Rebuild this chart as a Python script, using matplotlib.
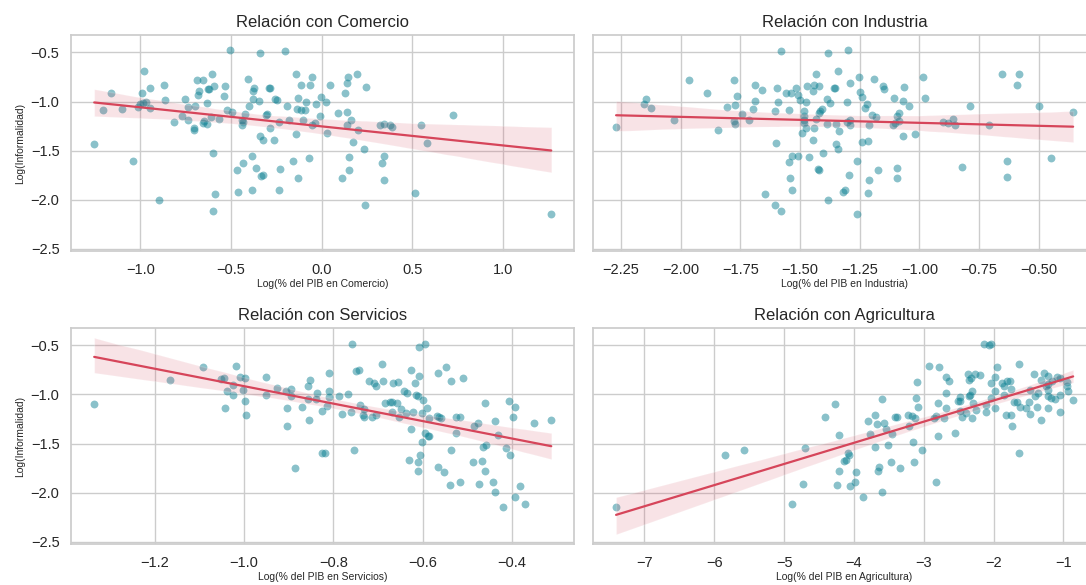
import matplotlib
matplotlib.use("Agg")
import matplotlib.pyplot as plt
import seaborn as sns

# Log(% del PIB en Comercio) vs Log(Informalidad)
comercio_x = [-1.254, -1.204, -1.16, -1.103, -1.042, -1.015, -1.002, -0.987, -0.969, -0.98,
              -0.99, -0.949, -0.949, -0.899, -0.871, -0.862, -0.816, -0.767, -0.752, -0.737,
              -0.735, -0.704, -0.702, -0.697, -0.686, -0.676, -0.684, -0.654, -0.656, -0.649,
              -0.634, -0.634, -0.627, -0.621, -0.603, -0.592, -0.608, -0.599, -0.588, -0.596,
              -0.564, -0.54, -0.535, -0.52, -0.504, -0.493, -0.467, -0.463, -0.434, -0.436,
              -0.438, -0.439, -0.423, -0.406, -0.401, -0.384, -0.384, -0.38, -0.375, -0.377,
              -0.36, -0.342, -0.344, -0.335, -0.322, -0.338, -0.324, -0.307, -0.303, -0.29,
              -0.285, -0.287, -0.263, -0.257, -0.248, -0.233, -0.232, -0.23, -0.2, -0.189,
              -0.182, -0.158, -0.143, -0.14, -0.132, -0.129, -0.136, -0.116, -0.092, -0.114,
              -0.101, -0.085, -0.072, -0.063, -0.055, -0.051, -0.037, -0.028, -0.007, -0.004,
              0.022, 0.031, 0.044, 0.127, 0.143, 0.147, 0.197, 0.246, 0.092, 0.14,
              0.162, 0.138, 0.2, 0.176, 0.235, 0.151, 0.151, 0.112, 0.239, 0.32,
              0.344, 0.377, 0.39, 0.347, 0.336, 0.344, 0.517, 0.548, 0.583, 0.726,
              1.267]
comercio_y = [-1.43, -1.09, -0.91, -1.076, -1.605, -1.06, -1.03, -1.02, -1.0, -0.685,
              -0.91, -0.864, -1.063, -2.003, -0.834, -0.985, -1.208, -1.147, -0.979, -1.056,
              -1.188, -1.289, -1.27, -1.046, -0.786, -0.888, -0.935, -0.78, -1.218, -1.198,
              -1.231, -1.012, -0.877, -0.87, -0.722, -0.847, -1.157, -1.521, -1.939, -2.118,
              -1.177, -0.948, -0.837, -1.083, -0.48, -1.103, -1.70, -1.922, -1.622, -1.208,
              -1.238, -1.19, -1.124, -0.77, -1.046, -1.552, -1.905, -0.888, -0.864, -0.972,
              -1.68, -0.51, -0.992, -1.754, -1.747, -1.356, -1.397, -1.134, -1.13, -0.86,
              -0.862, -1.27, -1.393, -0.972, -0.989, -1.208, -1.899, -1.69, -0.487, -1.046,
              -1.188, -1.605, -0.716, -1.329, -1.774, -0.968, -1.073, -1.09, -1.09, -0.827,
              -1.184, -1.002, -1.572, -0.827, -0.749, -1.235, -1.215, -1.026, -1.144, -0.952,
              -1.009, -1.319, -0.83, -0.911, -0.813, -0.746, -0.719, -0.854, -1.117, -1.107,
              -1.191, -1.238, -1.295, -1.41, -1.488, -1.565, -1.70, -1.784, -2.054, -1.238,
              -1.231, -1.241, -1.261, -1.558, -1.629, -1.798, -1.936, -1.238, -1.423, -1.14,
              -2.145]

# Log(% del PIB en Industria) vs Log(Informalidad)
industria_x = [-2.271, -2.154, -2.144, -2.124, -2.029, -1.964, -1.892, -1.842, -1.807, -1.778,
               -1.765, -1.772, -1.779, -1.772, -1.742, -1.715, -1.696, -1.69, -1.687, -1.661,
               -1.648, -1.606, -1.6, -1.605, -1.595, -1.592, -1.581, -1.581, -1.559, -1.54,
               -1.545, -1.547, -1.543, -1.535, -1.51, -1.534, -1.518, -1.508, -1.5, -1.493,
               -1.482, -1.482, -1.482, -1.483, -1.475, -1.475, -1.469, -1.461, -1.446, -1.447,
               -1.44, -1.422, -1.441, -1.434, -1.435, -1.426, -1.42, -1.42, -1.415, -1.41,
               -1.404, -1.387, -1.388, -1.384, -1.384, -1.374, -1.356, -1.353, -1.342, -1.35,
               -1.343, -1.349, -1.335, -1.299, -1.302, -1.305, -1.293, -1.292, -1.293, -1.296,
               -1.321, -1.311, -1.263, -1.26, -1.254, -1.25, -1.24, -1.239, -1.214, -1.226,
               -1.219, -1.214, -1.211, -1.211, -1.197, -1.18, -1.19, -1.173, -1.154, -1.147,
               -1.105, -1.109, -1.103, -1.096, -1.094, -1.094, -1.087, -1.084, -1.07, -1.067,
               -1.063, -1.043, -1.02, -0.987, -0.976, -0.902, -0.881, -0.86, -0.852, -0.821,
               -0.788, -0.708, -0.654, -0.582, -0.593, -0.635, -0.635, -0.497, -0.448, -0.356]
industria_y = [-1.262, -1.026, -0.979, -1.063, -1.191, -0.786, -0.911, -1.295, -1.056, -0.776,
               -0.945, -1.039, -1.198, -1.224, -1.127, -1.188, -1.076, -0.827, -0.992, -0.884,
               -1.939, -1.093, -1.423, -2.054, -0.86, -1.006, -0.487, -2.118, -0.915, -0.915,
               -1.09, -1.619, -1.777, -1.555, -1.558, -1.899, -0.86, -0.931, -0.982, -1.322,
               -1.093, -1.151, -1.188, -1.215, -1.009, -1.272, -0.837, -1.565, -1.396, -0.888,
               -0.83, -0.837, -1.268, -0.722, -1.181, -1.69, -1.70, -1.12, -1.1, -1.08,
               -1.521, -0.979, -1.231, -2.003, -0.51, -1.012, -0.86, -0.864, -0.689, -1.43,
               -1.484, -1.231, -1.299, -0.48, -1.006, -1.209, -1.188, -1.235, -0.813, -1.748,
               -1.919, -1.905, -2.145, -1.605, -0.749, -0.905, -0.956, -1.41, -1.403, -1.063,
               -1.029, -1.936, -1.799, -1.238, -1.137, -1.154, -0.773, -1.70, -0.847, -0.87,
               -0.968, -1.235, -1.218, -1.68, -1.784, -1.151, -1.117, -1.194, -1.356, -0.992,
               -0.854, -1.046, -1.329, -0.749, -0.968, -1.208, -1.215, -1.174, -1.238, -1.663,
               -1.046, -1.238, -0.716, -0.722, -0.827, -1.605, -1.764, -1.046, -1.572, -1.103]

# Log(% del PIB en Servicios) vs Log(Informalidad)
servicios_x = [-1.336, -1.166, -1.093, -1.051, -1.045, -1.038, -1.043, -1.025, -1.025, -1.018,
               -1.01, -0.999, -1.002, -0.999, -0.996, -0.951, -0.95, -0.927, -0.907, -0.903,
               -0.904, -0.896, -0.896, -0.886, -0.87, -0.857, -0.852, -0.858, -0.84, -0.837,
               -0.855, -0.825, -0.825, -0.818, -0.815, -0.811, -0.809, -0.81, -0.788, -0.768,
               -0.78, -0.76, -0.759, -0.754, -0.75, -0.743, -0.74, -0.733, -0.731, -0.731,
               -0.721, -0.713, -0.709, -0.705, -0.704, -0.692, -0.69, -0.685, -0.673, -0.669,
               -0.658, -0.667, -0.656, -0.668, -0.654, -0.648, -0.643, -0.636, -0.637, -0.622,
               -0.627, -0.627, -0.631, -0.617, -0.614, -0.61, -0.609, -0.596, -0.609, -0.599,
               -0.601, -0.591, -0.587, -0.594, -0.589, -0.585, -0.602, -0.605, -0.611, -0.61,
               -0.569, -0.564, -0.559, -0.565, -0.547, -0.537, -0.566, -0.552, -0.539, -0.536,
               -0.525, -0.525, -0.517, -0.516, -0.51, -0.486, -0.477, -0.487, -0.468, -0.461,
               -0.461, -0.474, -0.464, -0.458, -0.439, -0.432, -0.443, -0.438, -0.42, -0.413,
               -0.406, -0.405, -0.397, -0.393, -0.393, -0.381, -0.371, -0.351, -0.312]
servicios_y = [-1.097, -0.856, -0.721, -0.846, -0.836, -0.97, -1.138, -0.906, -1.007, -0.715,
               -0.822, -0.829, -0.956, -1.064, -1.205, -1.007, -0.822, -0.93, -0.963, -1.134,
               -1.322, -0.943, -1.013, -1.752, -1.128, -0.91, -0.852, -1.044, -1.044, -0.983,
               -1.265, -1.168, -1.597, -1.597, -1.117, -0.785, -0.963, -1.03, -1.02, -0.993,
               -1.195, -1.181, -0.483, -1.57, -0.765, -0.752, -1.104, -1.205, -1.232, -1.144,
               -0.859, -1.232, -0.883, -0.916, -1.211, -0.688, -0.862, -1.084, -1.081, -1.077,
               -1.091, -0.879, -0.872, -1.181, -1.232, -1.151, -0.97, -0.99, -1.191, -1.181,
               -0.755, -1.349, -1.668, -0.883, -1.01, -1.02, -0.513, -0.483, -0.812, -1.06,
               -1.191, -1.138, -1.238, -1.396, -1.419, -1.423, -1.487, -1.617, -1.688, -1.782,
               -1.215, -1.232, -1.242, -0.785, -0.721, -0.859, -1.735, -1.789, -1.923, -1.564,
               -1.396, -1.232, -1.232, -1.896, -0.832, -1.319, -1.295, -1.685, -1.678, -1.091,
               -1.775, -1.909, -1.54, -1.513, -1.275, -1.416, -1.896, -1.997, -2.144, -1.544,
               -1.07, -1.621, -1.225, -1.131, -2.044, -1.93, -2.114, -1.295, -1.258]

# Log(% del PIB en Agricultura) vs Log(Informalidad)
agricultura_x = [-7.406, -5.85, -5.573, -4.885, -4.723, -4.695, -4.418, -4.27, -4.236, -4.208,
                 -4.208, -4.136, -4.112, -4.08, -4.075, -4.06, -3.983, -3.969, -3.864, -3.802,
                 -3.764, -3.697, -3.692, -3.668, -3.659, -3.644, -3.592, -3.592, -3.573, -3.539,
                 -3.511, -3.463, -3.449, -3.415, -3.391, -3.334, -3.22, -3.205, -3.162, -3.129,
                 -3.148, -3.134, -3.105, -3.1, -3.086, -3.033, -2.919, -2.847, -2.823, -2.819,
                 -2.8, -2.79, -2.78, -2.704, -2.68, -2.637, -2.68, -2.68, -2.556, -2.508,
                 -2.489, -2.485, -2.48, -2.451, -2.403, -2.365, -2.351, -2.332, -2.35, -2.327,
                 -2.313, -2.313, -2.298, -2.265, -2.193, -2.251, -2.141, -2.069, -2.041, -2.107,
                 -2.107, -2.041, -2.031, -1.983, -1.979, -1.974, -1.95, -1.874, -1.859, -1.854,
                 -1.826, -1.745, -1.802, -1.773, -1.745, -1.735, -1.711, -1.668, -1.644, -1.635,
                 -1.625, -1.539, -1.487, -1.473, -1.473, -1.425, -1.406, -1.368, -1.382, -1.315,
                 -1.329, -1.286, -1.248, -1.224, -1.215, -1.215, -1.215, -1.215, -1.186, -1.167,
                 -1.124, -1.09, -1.057, -1.043, -1.048, -0.957, -0.943, -0.933, -0.862]
agricultura_y = [-2.144, -1.621, -1.57, -2.114, -1.909, -1.55, -1.232, -1.097, -1.926, -1.416,
                 -1.775, -1.681, -1.668, -1.6, -1.614, -1.93, -1.896, -1.789, -2.044, -1.272,
                 -1.403, -1.54, -1.211, -1.299, -1.782, -1.735, -1.047, -1.993, -1.295, -1.349,
                 -1.517, -1.691, -1.406, -1.228, -1.228, -1.752, -1.211, -1.322, -1.221, -1.235,
                 -1.487, -1.691, -1.04, -0.869, -1.131, -1.564, -0.715, -1.238, -1.221, -1.896,
                 -1.423, -1.091, -0.718, -1.238, -0.819, -0.859, -0.99, -1.138, -1.393, -1.067,
                 -1.067, -1.023, -1.171, -1.225, -1.191, -0.79, -1.02, -1.003, -0.852, -0.832,
                 -0.963, -1.235, -1.087, -0.787, -0.805, -1.154, -0.483, -0.497, -0.483, -1.104,
                 -1.181, -1.037, -0.886, -1.138, -0.819, -0.97, -0.725, -0.886, -0.916, -1.003,
                 -1.205, -1.211, -0.859, -0.859, -0.943, -1.326, -1.081, -1.077, -1.597, -0.688,
                 -1.131, -1.134, -1.081, -1.198, -0.956, -0.789, -1.013, -0.99, -1.124, -1.265,
                 -0.849, -0.782, -0.916, -0.956, -0.893, -0.815, -1.138, -1.013, -1.04, -0.859,
                 -1.047, -0.826, -0.836, -1.007, -1.178, -0.869, -0.919, -0.97, -1.06]

sectores = ["Comercio", "Industria", "Servicios", "Agricultura"]
datos = [(comercio_x, comercio_y), (industria_x, industria_y),
         (servicios_x, servicios_y), (agricultura_x, agricultura_y)]

sns.set_theme(style="whitegrid")
plt.rcParams["font.family"] = ["Liberation Sans", "DejaVu Sans"]

fig, axes = plt.subplots(2, 2, figsize=(10.86, 5.85), dpi=100, sharey=True)
fig.subplots_adjust(left=0.0657, right=1.0092, top=0.940, bottom=0.070,
                    hspace=0.356, wspace=0.038)

for ax, sector, (xs, ys) in zip(axes.flat, sectores, datos):
    sns.regplot(x=xs, y=ys, ax=ax, seed=3,
                scatter_kws={"color": "#0a7f91", "alpha": 0.48, "s": 32, "linewidths": 0},
                line_kws={"color": "#d6455a", "lw": 1.6})
    ax.set_title(f"Relación con {sector}", fontsize=12)
    ax.set_xlabel(f"Log(% del PIB en {sector})", fontsize=7.5, labelpad=1.5)
    ax.tick_params(labelsize=10.5, pad=2.5)

for ax in axes[:, 0]:
    ax.set_ylabel("Log(Informalidad)", fontsize=7.5)
for ax in axes[:, 1]:
    ax.set_ylabel("")

fig.savefig("out.png", dpi=100)
